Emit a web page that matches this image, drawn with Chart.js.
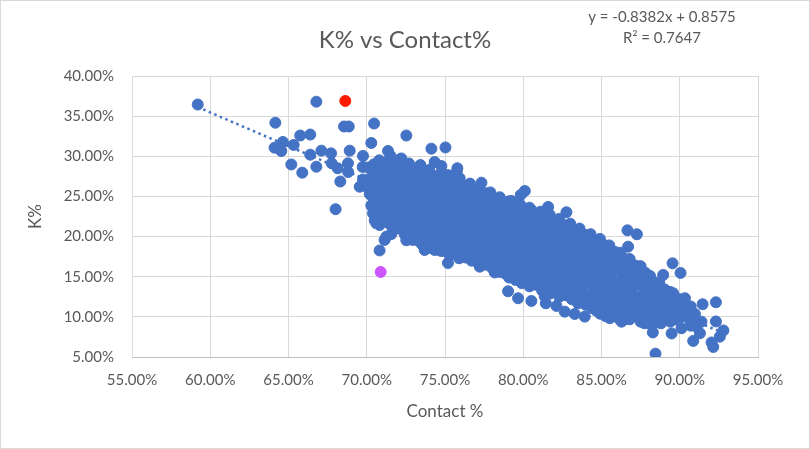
<!DOCTYPE html>
<html>
<head>
<meta charset="utf-8">
<title>K% vs Contact%</title>
<script src="https://cdn.jsdelivr.net/npm/chart.js@4.4.1/dist/chart.umd.min.js"></script>
<style>
    html, body { margin: 0; padding: 0; background: #ffffff; }
    #wrap { width: 810px; height: 449px; position: relative; }
</style>
</head>
<body>
<div id="wrap"><canvas id="kChart"></canvas></div>
<script>
// Contact % (x) and K% (y) for each hitter
const contactK = [
    // loose points round the edges of the cloud
    [59.20,36.45],[64.16,34.18],[66.78,36.80],[68.55,33.71],[68.85,33.71],[70.47,34.08],[72.53,32.59],
    [74.13,30.95],[75.03,31.10],[70.29,31.66],[65.75,32.59],[66.39,32.71],[64.64,31.78],[64.11,31.07],
    [64.54,30.66],[65.33,31.41],[65.18,28.98],[65.88,27.96],[66.39,30.20],[66.78,28.70],[67.10,30.70],
    [67.72,30.37],[67.76,29.13],[68.14,28.51],[68.91,30.70],[68.80,29.13],[68.81,28.04],[68.31,26.86],
    [69.76,30.04],[69.74,28.67],[69.76,27.11],[69.55,26.21],[70.19,25.31],[70.40,23.72],[68.01,23.41],
    [70.29,23.87],[70.61,23.25],[70.51,22.00],[70.61,21.66],[70.82,21.44],[71.46,21.66],[71.25,19.99],
    [71.57,20.32],[71.14,19.58],[70.82,18.27],[72.53,19.54],[73.59,18.95],[73.70,18.33],[74.34,18.33],
    [74.66,18.27],[75.19,16.71],[77.22,16.25],[78.18,15.53],[79.03,13.19],[79.67,12.32],[80.52,11.98],
    [81.37,12.57],[81.44,11.69],[82.12,11.36],[82.65,10.65],[83.29,10.36],[83.50,11.69],[83.93,10.03],
    [85.53,9.83],[86.28,9.40],[88.28,8.06],[89.48,7.93],[90.86,7.00],[91.29,7.96],[92.03,6.81],
    [92.14,6.25],[92.56,7.53],[92.79,8.31],[92.31,9.43],[91.46,11.57],[92.31,11.82],[88.45,5.42],
    [89.54,16.67],[90.05,15.47],[87.45,16.28],[88.94,15.22],[86.66,20.78],[87.26,20.29],[86.70,18.74],
    [82.76,23.03],[81.59,23.69],[80.10,25.68],[79.84,25.18],[79.25,24.43],[80.52,23.31],[82.65,20.82],
    [83.18,20.20],[83.61,19.17],[84.46,18.54],[77.33,26.71],[77.65,25.39],[75.94,27.26],[75.79,28.51],
    [74.77,28.79],[74.34,29.29],[73.43,28.92],[72.21,29.73],[71.36,30.66],[70.82,29.17],[72.95,27.67],
    [74.23,26.21],[75.17,27.67],[75.75,28.04],[88.73,13.76],[88.09,14.38],[89.58,12.94],[90.33,12.32],
    [89.69,12.10],[90.97,10.36],[91.39,9.40],[91.07,8.78],[90.11,8.58],[89.58,10.24],[88.73,10.86],
    [90.22,10.86],[90.65,9.61],
    // the dense band
    [70.1,28.6],[70.3,27.4],[70.0,26.2],[70.4,24.9],
    [70.8,29.5],[70.9,28.3],[70.7,27.2],[70.9,25.9],[70.8,24.6],[70.9,23.4],[70.7,22.2],
    [71.5,30.1],[71.4,28.9],[71.6,27.7],[71.4,26.4],[71.5,25.2],[71.6,24.0],[71.4,22.8],[71.5,21.5],
    [72.1,29.6],[72.2,28.4],[72.0,27.1],[72.1,25.8],[72.2,24.6],[72.0,23.3],[72.1,22.1],[72.2,20.9],
    [72.7,29.1],[72.8,27.9],[72.6,26.6],[72.8,25.4],[72.7,24.2],[72.6,22.9],[72.8,21.7],[72.7,20.4],[72.9,19.6],
    [73.4,28.7],[73.3,27.4],[73.5,26.2],[73.4,25.0],[73.3,23.7],[73.5,22.5],[73.4,21.2],[73.3,20.0],[73.5,19.1],
    [74.0,28.3],[74.1,27.0],[73.9,25.8],[74.0,24.5],[74.1,23.3],[73.9,22.0],[74.0,20.8],[74.1,19.6],[74.0,18.6],
    [74.7,27.8],[74.6,26.6],[74.8,25.3],[74.7,24.1],[74.6,22.8],[74.8,21.6],[74.7,20.4],[74.6,19.1],[74.8,18.2],
    [75.3,27.4],[75.4,26.1],[75.2,24.9],[75.3,23.6],[75.4,22.4],[75.2,21.1],[75.3,19.9],[75.4,18.7],[75.3,17.7],
    [75.9,27.0],[76.0,25.7],[75.8,24.5],[75.9,23.2],[76.0,22.0],[75.8,20.7],[75.9,19.5],[76.0,18.2],[75.9,17.3],
    [76.6,26.6],[76.5,25.3],[76.7,24.1],[76.6,22.8],[76.5,21.6],[76.7,20.3],[76.6,19.1],[76.5,17.8],[76.7,17.0],
    [77.2,26.0],[77.3,24.8],[77.1,23.5],[77.2,22.3],[77.3,21.0],[77.1,19.8],[77.2,18.5],[77.3,17.3],[77.2,16.6],
    [77.9,25.5],[77.8,24.2],[78.0,23.0],[77.9,21.7],[77.8,20.5],[78.0,19.2],[77.9,18.0],[77.8,16.7],[78.0,16.1],
    [78.5,24.9],[78.6,23.7],[78.4,22.4],[78.5,21.2],[78.6,19.9],[78.4,18.7],[78.5,17.4],[78.6,16.2],[78.5,15.6],
    [79.1,24.4],[79.2,23.2],[79.0,21.9],[79.1,20.7],[79.2,19.4],[79.0,18.2],[79.1,16.9],[79.2,15.7],[79.1,14.9],
    [79.8,24.0],[79.7,22.7],[79.9,21.5],[79.8,20.2],[79.7,19.0],[79.9,17.7],[79.8,16.5],[79.7,15.2],[79.9,14.2],
    [80.4,23.6],[80.5,22.3],[80.3,21.1],[80.4,19.8],[80.5,18.6],[80.3,17.3],[80.4,16.1],[80.5,14.8],[80.4,13.8],
    [81.1,23.1],[81.0,21.9],[81.2,20.6],[81.1,19.4],[81.0,18.1],[81.2,16.9],[81.1,15.6],[81.0,14.4],[81.2,13.3],
    [81.7,22.7],[81.8,21.4],[81.6,20.2],[81.7,18.9],[81.8,17.7],[81.6,16.4],[81.7,15.2],[81.8,13.9],[81.7,12.9],
    [82.3,22.2],[82.4,21.0],[82.2,19.7],[82.3,18.5],[82.4,17.2],[82.2,16.0],[82.3,14.7],[82.4,13.5],[82.3,12.5],
    [83.0,21.6],[82.9,20.4],[83.1,19.1],[83.0,17.9],[82.9,16.6],[83.1,15.4],[83.0,14.1],[82.9,12.9],[83.1,12.2],
    [83.6,21.0],[83.7,19.8],[83.5,18.5],[83.6,17.3],[83.7,16.0],[83.5,14.8],[83.6,13.5],[83.7,12.3],[83.6,11.9],
    [84.3,20.3],[84.2,19.1],[84.4,17.8],[84.3,16.6],[84.2,15.3],[84.4,14.1],[84.3,12.8],[84.2,11.6],[84.4,11.1],
    [84.9,19.7],[85.0,18.4],[84.8,17.2],[84.9,15.9],[85.0,14.7],[84.8,13.4],[84.9,12.2],[85.0,10.9],[84.9,10.4],
    [85.5,18.9],[85.6,17.6],[85.4,16.4],[85.5,15.1],[85.6,13.9],[85.4,12.6],[85.5,11.4],[85.6,10.2],
    [86.2,18.0],[86.1,16.8],[86.3,15.5],[86.2,14.3],[86.1,13.0],[86.3,11.8],[86.2,10.5],[86.1,9.8],
    [86.8,17.2],[86.9,15.9],[86.7,14.7],[86.8,13.4],[86.9,12.2],[86.7,10.9],[86.8,9.7],
    [87.5,16.3],[87.4,15.0],[87.6,13.8],[87.5,12.5],[87.4,11.3],[87.6,10.0],[87.5,9.4],
    [88.1,15.1],[88.2,13.9],[88.0,12.6],[88.1,11.4],[88.2,10.1],[88.0,9.2],
    [88.7,14.2],[88.8,13.0],[88.6,11.7],[88.7,10.5],[88.8,9.2],
    [89.4,13.1],[89.3,11.9],[89.5,10.6],[89.4,9.4],
    [90.0,12.2],[90.1,10.9],[89.9,9.6],
    [90.7,11.3],[90.6,10.0],[90.7,8.9],
    // second pass through the band, sitting in the gaps of the first
    [70.45,29.0],[70.5,27.9],[70.4,26.7],[70.5,25.4],[70.45,24.1],[70.4,22.9],
    [71.1,29.2],[71.15,28.0],[71.05,26.9],[71.1,25.6],[71.15,24.3],[71.05,23.1],[71.1,21.9],
    [71.8,29.3],[71.85,28.1],[71.75,26.9],[71.8,25.6],[71.85,24.4],[71.75,23.2],[71.8,21.9],[71.85,21.0],
    [72.4,28.8],[72.45,27.6],[72.35,26.3],[72.4,25.0],[72.45,23.8],[72.35,22.5],[72.4,21.3],[72.45,20.2],
    [73.05,28.3],[73.1,27.1],[73.0,25.8],[73.05,24.6],[73.1,23.4],[73.0,22.1],[73.05,20.9],[73.1,19.6],
    [73.7,27.9],[73.75,26.6],[73.65,25.4],[73.7,24.2],[73.75,22.9],[73.65,21.7],[73.7,20.4],[73.75,19.2],
    [74.35,27.5],[74.4,26.2],[74.3,25.0],[74.35,23.7],[74.4,22.5],[74.3,21.2],[74.35,20.0],[74.4,18.8],
    [75.0,27.0],[75.05,25.8],[74.95,24.5],[75.0,23.3],[75.05,22.0],[74.95,20.8],[75.0,19.6],[75.05,18.3],
    [75.6,26.6],[75.65,25.3],[75.55,24.1],[75.6,22.8],[75.65,21.6],[75.55,20.3],[75.6,19.1],[75.65,17.9],
    [76.25,26.2],[76.3,24.9],[76.2,23.7],[76.25,22.4],[76.3,21.2],[76.2,19.9],[76.25,18.7],[76.3,17.4],
    [76.9,25.8],[76.95,24.5],[76.85,23.3],[76.9,22.0],[76.95,20.8],[76.85,19.5],[76.9,18.3],[76.95,17.0],
    [77.55,25.2],[77.6,24.0],[77.5,22.7],[77.55,21.5],[77.6,20.2],[77.5,19.0],[77.55,17.7],[77.6,16.5],
    [78.2,24.7],[78.25,23.4],[78.15,22.2],[78.2,20.9],[78.25,19.7],[78.15,18.4],[78.2,17.2],[78.25,15.9],
    [78.8,24.1],[78.85,22.9],[78.75,21.6],[78.8,20.4],[78.85,19.1],[78.75,17.9],[78.8,16.6],[78.85,15.4],
    [79.45,23.6],[79.5,22.4],[79.4,21.1],[79.45,19.9],[79.5,18.6],[79.4,17.4],[79.45,16.1],[79.5,14.6],
    [80.1,23.2],[80.15,21.9],[80.05,20.7],[80.1,19.4],[80.15,18.2],[80.05,16.9],[80.1,15.7],[80.15,14.4],
    [80.75,22.8],[80.8,21.5],[80.7,20.3],[80.75,19.0],[80.8,17.8],[80.7,16.5],[80.75,15.3],[80.8,14.0],
    [81.4,22.3],[81.45,21.1],[81.35,19.8],[81.4,18.6],[81.45,17.3],[81.35,16.1],[81.4,14.8],[81.45,13.6],
    [82.0,21.9],[82.05,20.6],[81.95,19.4],[82.0,18.1],[82.05,16.9],[81.95,15.6],[82.0,14.4],[82.05,13.1],
    [82.65,21.4],[82.7,20.2],[82.6,18.9],[82.65,17.7],[82.7,16.4],[82.6,15.2],[82.65,13.9],[82.7,12.7],
    [83.3,20.8],[83.35,19.6],[83.25,18.3],[83.3,17.1],[83.35,15.8],[83.25,14.6],[83.3,13.3],[83.35,12.1],
    [83.95,20.2],[84.0,19.0],[83.9,17.7],[83.95,16.5],[84.0,15.2],[83.9,14.0],[83.95,12.7],[84.0,11.5],
    [84.6,19.5],[84.65,18.3],[84.55,17.0],[84.6,15.8],[84.65,14.5],[84.55,13.3],[84.6,12.0],[84.65,10.8],
    [85.2,18.9],[85.25,17.6],[85.15,16.4],[85.2,15.1],[85.25,13.9],[85.15,12.6],[85.2,11.4],[85.25,10.1],
    [85.85,18.1],[85.9,16.8],[85.8,15.6],[85.85,14.3],[85.9,13.1],[85.8,11.8],[85.85,10.6],
    [86.5,17.2],[86.55,16.0],[86.45,14.7],[86.5,13.5],[86.55,12.2],[86.45,11.0],[86.5,9.7],
    [87.15,16.4],[87.2,15.1],[87.1,13.9],[87.15,12.6],[87.2,11.4],[87.1,10.1],
    [87.8,15.5],[87.85,14.2],[87.75,13.0],[87.8,11.7],[87.85,10.5],[87.75,9.2],
    [88.4,14.3],[88.45,13.1],[88.35,11.8],[88.4,10.6],[88.45,9.3],
    [89.05,13.4],[89.1,12.2],[89.0,10.9],[89.05,9.7],
    [89.7,12.3],[89.75,11.1],[89.65,9.8],
    [90.35,11.4],[90.4,10.1]
];

// the two highlighted hitters
const redPoint = [68.63, 36.89];
const purplePoint = [70.89, 15.59];

// Excel linear trendline (fractions, not percent)
const trendSlope = -0.8382;
const trendIntercept = 0.8575;
const trendR2 = 0.7647;

const xTicks = [55, 60, 65, 70, 75, 80, 85, 90, 95];
const yTicks = [5, 10, 15, 20, 25, 30, 35, 40];

const textGrey = '#595959';
const gridGrey = '#d9d9d9';
const dotBlue = '#4472c4';

function toXY(pair) {
    return { x: pair[0], y: pair[1] };
}

function trendAt(x) {
    return (trendSlope * (x / 100) + trendIntercept) * 100;
}

const xs = contactK.map(p => p[0]);
const trendFrom = Math.min(...xs);
const trendTo = Math.max(...xs);

const frameAndText = {
    id: 'frameAndText',
    beforeDraw(chart) {
        const ctx = chart.ctx;
        ctx.save();
        ctx.fillStyle = '#ffffff';
        ctx.fillRect(0, 0, chart.width, chart.height);
        ctx.restore();
    },
    afterDraw(chart) {
        const ctx = chart.ctx;
        const area = chart.chartArea;
        ctx.save();
        ctx.strokeStyle = gridGrey;
        ctx.lineWidth = 1;
        ctx.strokeRect(0.5, 0.5, chart.width - 1, chart.height - 1);

        ctx.fillStyle = textGrey;
        ctx.textAlign = 'center';
        ctx.textBaseline = 'middle';
        ctx.font = '24px Lato';
        ctx.fillText('K% vs Contact%', chart.width / 2, 40);

        ctx.font = '15px Lato';
        const eq = 'y = ' + trendSlope.toFixed(4) + 'x + ' + trendIntercept.toFixed(4);
        ctx.fillText(eq, area.right - 96, 17);
        ctx.fillText('R² = ' + trendR2.toFixed(4), area.right - 96, 38);
        ctx.restore();
    }
};

new Chart(document.getElementById('kChart'), {
    type: 'scatter',
    data: {
        datasets: [
            {
                data: [toXY(redPoint)],
                backgroundColor: '#ff1a00',
                borderColor: '#ff1a00',
                pointRadius: 5.5,
                borderWidth: 1,
                order: 0
            },
            {
                data: [toXY(purplePoint)],
                backgroundColor: '#cc55ff',
                borderColor: '#cc55ff',
                pointRadius: 5.5,
                borderWidth: 1,
                order: 1
            },
            {
                data: contactK.map(toXY),
                backgroundColor: dotBlue,
                borderColor: dotBlue,
                pointRadius: 5.5,
                borderWidth: 1,
                order: 2
            },
            {
                data: [
                    { x: trendFrom, y: trendAt(trendFrom) },
                    { x: trendTo, y: trendAt(trendTo) }
                ],
                showLine: true,
                borderColor: dotBlue,
                borderWidth: 2.5,
                borderDash: [2.5, 3.5],
                pointRadius: 0,
                order: 3
            }
        ]
    },
    options: {
        responsive: true,
        maintainAspectRatio: false,
        animation: false,
        layout: {
            padding: { top: 76, right: 52, bottom: 0, left: 0 }
        },
        plugins: {
            legend: { display: false },
            tooltip: { enabled: false },
            title: { display: false }
        },
        scales: {
            x: {
                type: 'linear',
                position: 'bottom',
                min: xTicks[0],
                max: xTicks[xTicks.length - 1],
                afterFit: s => { s.height = 92; },
                grid: { color: gridGrey, drawTicks: false },
                border: { color: '#bfbfbf', width: 1 },
                ticks: {
                    stepSize: 5,
                    padding: 14,
                    color: textGrey,
                    font: { family: 'Lato', size: 15 },
                    callback: v => v.toFixed(2) + '%'
                },
                title: {
                    display: true,
                    text: 'Contact %',
                    color: textGrey,
                    font: { family: 'Lato', size: 17 },
                    padding: { top: 0, bottom: 27 }
                }
            },
            y: {
                type: 'linear',
                min: yTicks[0],
                max: yTicks[yTicks.length - 1],
                afterFit: s => { s.width = 132; },
                grid: { color: gridGrey, drawTicks: false },
                border: { color: gridGrey, width: 1 },
                ticks: {
                    stepSize: 5,
                    padding: 18,
                    color: textGrey,
                    font: { family: 'Lato', size: 15 },
                    callback: v => v.toFixed(2) + '%'
                },
                title: {
                    display: true,
                    text: 'K%',
                    color: textGrey,
                    font: { family: 'Lato', size: 17 },
                    padding: { top: 25, bottom: 0 }
                }
            }
        }
    },
    plugins: [frameAndText]
});
</script>
</body>
</html>
